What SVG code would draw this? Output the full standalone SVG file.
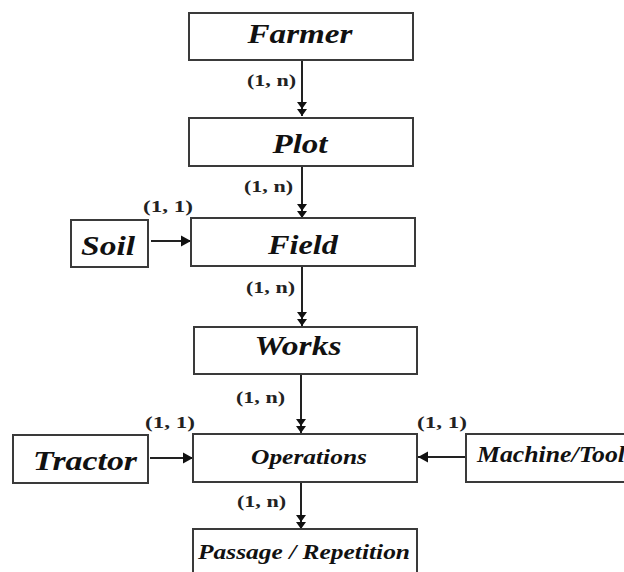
<svg xmlns="http://www.w3.org/2000/svg" width="624" height="572" viewBox="0 0 624 572">
<style>
rect.box{fill:#fff;stroke:#3a3a3a;stroke-width:2}
text.n{font-weight:bold;font-style:italic;fill:#111;text-anchor:middle}
text.c{font-weight:bold;fill:#222;font-size:17px}
line.e{stroke:#222;stroke-width:2}
</style>
<defs>
<marker id="dbl" viewBox="-14 -6 15 12" refX="0" refY="0" markerWidth="15" markerHeight="12" markerUnits="userSpaceOnUse" orient="auto">
<path d="M-14,-5 L-7,0 L-14,5 Z M-7,-5 L0,0 L-7,5 Z" fill="#111"/>
</marker>
<marker id="one" viewBox="-10 -6 11 12" refX="0" refY="0" markerWidth="11" markerHeight="12" markerUnits="userSpaceOnUse" orient="auto">
<path d="M-10,-5.5 L0,0 L-10,5.5 Z" fill="#111"/>
</marker>
</defs>
<g id="connectors">
<line class="e" x1="302" y1="60" x2="302" y2="116" marker-end="url(#dbl)"/>
<line class="e" x1="302" y1="166" x2="302" y2="218" marker-end="url(#dbl)"/>
<line class="e" x1="302" y1="266" x2="302" y2="326" marker-end="url(#dbl)"/>
<line class="e" x1="301" y1="374" x2="301" y2="433" marker-end="url(#dbl)"/>
<line class="e" x1="301" y1="483" x2="301" y2="529" marker-end="url(#dbl)"/>
<line class="e" x1="151" y1="241" x2="191" y2="241" marker-end="url(#one)"/>
<line class="e" x1="150" y1="458" x2="193" y2="458" marker-end="url(#one)"/>
<line class="e" x1="466" y1="457" x2="418" y2="457" marker-end="url(#one)"/>
<text class="c" font-family="Liberation Serif" x="247" y="86" textLength="49" lengthAdjust="spacingAndGlyphs">(1, n)</text>
<text class="c" font-family="Liberation Serif" x="244" y="192" textLength="49" lengthAdjust="spacingAndGlyphs">(1, n)</text>
<text class="c" font-family="Liberation Serif" x="143" y="212" textLength="50" lengthAdjust="spacingAndGlyphs">(1, 1)</text>
<text class="c" font-family="Liberation Serif" x="246" y="293" textLength="49" lengthAdjust="spacingAndGlyphs">(1, n)</text>
<text class="c" font-family="Liberation Serif" x="236" y="403" textLength="49" lengthAdjust="spacingAndGlyphs">(1, n)</text>
<text class="c" font-family="Liberation Serif" x="145" y="428" textLength="50" lengthAdjust="spacingAndGlyphs">(1, 1)</text>
<text class="c" font-family="Liberation Serif" x="417" y="428" textLength="50" lengthAdjust="spacingAndGlyphs">(1, 1)</text>
<text class="c" font-family="Liberation Serif" x="237" y="507" textLength="49" lengthAdjust="spacingAndGlyphs">(1, n)</text>
</g>
<g id="farmer"><rect class="box" x="189" y="13" width="224" height="47"/><text class="n" font-family="Liberation Serif" x="300" y="43" font-size="28" textLength="105" lengthAdjust="spacingAndGlyphs">Farmer</text></g>
<g id="plot"><rect class="box" x="189" y="118" width="224" height="48"/><text class="n" font-family="Liberation Serif" x="300" y="153" font-size="28" textLength="55" lengthAdjust="spacingAndGlyphs">Plot</text></g>
<g id="soil"><rect class="box" x="71" y="220" width="77" height="47"/><text class="n" font-family="Liberation Serif" x="108" y="255" font-size="28" textLength="54" lengthAdjust="spacingAndGlyphs">Soil</text></g>
<g id="field"><rect class="box" x="191" y="218" width="224" height="48"/><text class="n" font-family="Liberation Serif" x="303" y="254" font-size="28" textLength="70" lengthAdjust="spacingAndGlyphs">Field</text></g>
<g id="works"><rect class="box" x="194" y="327" width="223" height="47"/><text class="n" font-family="Liberation Serif" x="298" y="355" font-size="28" textLength="87" lengthAdjust="spacingAndGlyphs">Works</text></g>
<g id="tractor"><rect class="box" x="13" y="435" width="135" height="48"/><text class="n" font-family="Liberation Serif" x="85" y="470" font-size="28" textLength="104" lengthAdjust="spacingAndGlyphs">Tractor</text></g>
<g id="operations"><rect class="box" x="193" y="434" width="224" height="48"/><text class="n" font-family="Liberation Serif" x="309" y="464" font-size="21" textLength="116" lengthAdjust="spacingAndGlyphs">Operations</text></g>
<g id="machine"><rect class="box" x="466" y="434" width="162" height="48"/><text class="n" font-family="Liberation Serif" x="477" y="462" font-size="24" style="text-anchor:start" textLength="148" lengthAdjust="spacingAndGlyphs">Machine/Tool</text></g>
<g id="passage"><rect class="box" x="193" y="529" width="224" height="50"/><text class="n" font-family="Liberation Serif" x="304" y="559" font-size="22" textLength="212" lengthAdjust="spacingAndGlyphs">Passage / Repetition</text></g>
</svg>
